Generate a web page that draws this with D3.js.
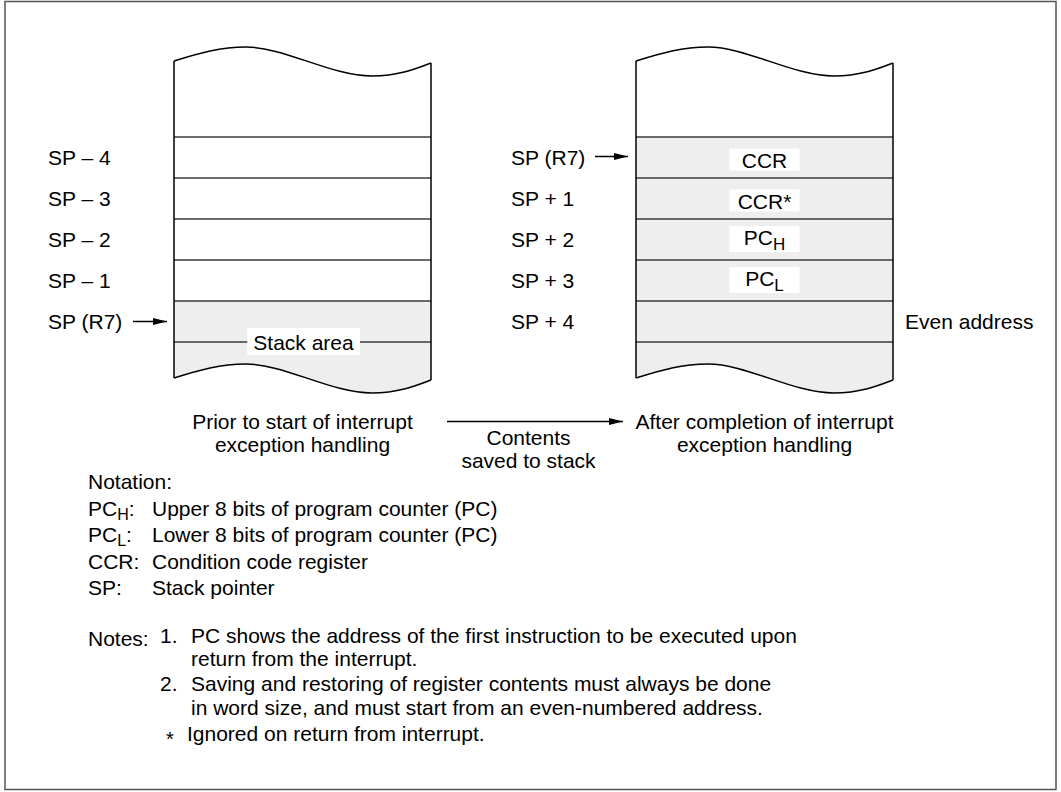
<!DOCTYPE html>
<html><head><meta charset="utf-8">
<script src="https://cdn.jsdelivr.net/npm/d3@7"></script>
<style>
body{margin:0;background:#fff}
text{font-family:"Liberation Sans",Arial,Helvetica,sans-serif;font-size:21px;fill:#000}
</style>
</head><body><svg id="c" width="1061" height="792"></svg>
<script>
// ---- data ----
const rowIndex = [0, 1, 2, 3, 4];
const leftLabels = ["SP – 4", "SP – 3", "SP – 2", "SP – 1", "SP (R7)"];
const rightLabels = ["SP (R7)", "SP + 1", "SP + 2", "SP + 3", "SP + 4"];
const cellMain = ["CCR", "CCR", "PC", "PC", ""];
const cellSub  = ["", "", "H", "L", ""];
const cellSup  = ["", "*", "", "", ""];
const leftShadeFrom = 4;   // left stack shaded from row 4
const rightShadeFrom = 0;  // right stack shaded from row 0
const stackAreaLabel = "Stack area";
const evenLabel = "Even address";
const leftCaption = ["Prior to start of interrupt", "exception handling"];
const rightCaption = ["After completion of interrupt", "exception handling"];
const arrowCaption = ["Contents", "saved to stack"];
const notationTitle = "Notation:";
const notationKey = ["PC", "PC", "CCR", "SP"];
const notationSub = ["H", "L", "", ""];
const notationDesc = ["Upper 8 bits of program counter (PC)", "Lower 8 bits of program counter (PC)",
                      "Condition code register", "Stack pointer"];
const notesTitle = "Notes:";
const noteMarks = ["1.", "2."];
const noteLines = [["PC shows the address of the first instruction to be executed upon", "return from the interrupt."],
                   ["Saving and restoring of register contents must always be done", "in word size, and must start from an even-numbered address."]];
const footMark = "*";
const footText = "Ignored on return from interrupt.";

// ---- layout ----
const svg = d3.select("#c");
const y = d3.scaleLinear().domain([0, 5]).range([137, 342]);   // row boundaries
const stacks = [
  {x0: 174, x1: 431, shade: leftShadeFrom},
  {x0: 636, x1: 893, shade: rightShadeFrom}
];
const topY = 61, botY = 378;

// border
svg.append("rect").attr("x", 5).attr("y", 1.5).attr("width", 1051).attr("height", 788)
  .attr("fill", "none").attr("stroke", "#555").attr("stroke-width", 1.5);

function wave(p, x0, x1, yl, moveFirst) {
  const w = x1 - x0;
  if (moveFirst) p.moveTo(x0, yl); else p.lineTo(x0, yl);
  p.bezierCurveTo(x0 + 0.10 * w, yl - 8, x0 + 0.18 * w, yl - 14, x0 + 0.28 * w, yl - 14);
  p.bezierCurveTo(x0 + 0.43 * w, yl - 14, x0 + 0.61 * w, yl + 15, x0 + 0.77 * w, yl + 15);
  p.bezierCurveTo(x0 + 0.87 * w, yl + 15, x0 + 0.94 * w, yl + 8, x1, yl + 2);
  return p;
}

stacks.forEach(s => {
  const g = svg.append("g");
  const f = d3.path();
  f.moveTo(s.x0, y(s.shade));
  wave(f, s.x0, s.x1, botY, false);
  f.lineTo(s.x1, y(s.shade));
  f.closePath();
  g.append("path").attr("d", f.toString()).attr("fill", "#eeeeee");
  g.selectAll("line.row").data([0, 1, 2, 3, 4, 5]).join("line")
    .attr("x1", s.x0).attr("x2", s.x1).attr("y1", d => y(d)).attr("y2", d => y(d))
    .attr("stroke", "#3a3a3a").attr("stroke-width", 1.6);
  g.append("line").attr("x1", s.x0).attr("x2", s.x0).attr("y1", topY).attr("y2", botY)
    .attr("stroke", "#000").attr("stroke-width", 1.5);
  g.append("line").attr("x1", s.x1).attr("x2", s.x1).attr("y1", topY + 2).attr("y2", botY + 2)
    .attr("stroke", "#000").attr("stroke-width", 1.5);
  g.append("path").attr("d", wave(d3.path(), s.x0, s.x1, topY, true).toString())
    .attr("fill", "none").attr("stroke", "#000").attr("stroke-width", 1.5);
  g.append("path").attr("d", wave(d3.path(), s.x0, s.x1, botY, true).toString())
    .attr("fill", "none").attr("stroke", "#000").attr("stroke-width", 1.5);
});

const L = stacks[0], R = stacks[1];
const lc = (L.x0 + L.x1) / 2, rc = (R.x0 + R.x1) / 2;
const mid = i => (y(i) + y(i + 1)) / 2;

// Stack area label
const sa = svg.append("g");
const saRect = sa.append("rect").attr("fill", "#fff");
const saText = sa.append("text").attr("x", lc + 1).attr("y", y(5) + 7.5).attr("text-anchor", "middle").text(stackAreaLabel);
{ const b = saText.node().getBBox();
  saRect.attr("x", b.x - 6).attr("width", b.width + 12).attr("y", y(5) - 14).attr("height", 27); }

svg.selectAll("text.ll").data(rowIndex).join("text").attr("class", "ll")
  .attr("x", 48).attr("y", d => mid(d) + 7.5).text(d => leftLabels[d]);
svg.selectAll("text.rl").data(rowIndex).join("text").attr("class", "rl")
  .attr("x", 511).attr("y", d => mid(d) + 7.5).text(d => rightLabels[d]);
svg.append("text").attr("x", 905).attr("y", mid(4) + 7.5).text(evenLabel);

rowIndex.filter(i => cellMain[i]).forEach(i => {
  const hasSub = cellSub[i] !== "";
  const base = mid(i) + (hasSub ? 5.5 : 10);
  svg.append("rect").attr("x", rc - 35).attr("width", 70)
    .attr("y", base - 19).attr("height", hasSub ? 26 : 22).attr("fill", "#fff");
  const t = svg.append("text").attr("x", rc).attr("y", base).attr("text-anchor", "middle");
  t.append("tspan").text(cellMain[i]);
  if (hasSub) t.append("tspan").attr("dy", 5).style("font-size", "17px").text(cellSub[i]);
  if (cellSup[i]) t.append("tspan").text(cellSup[i]);
});

svg.append("defs").append("marker").attr("id", "ah").attr("viewBox", "0 0 14 8")
  .attr("refX", 14).attr("refY", 4).attr("markerWidth", 14).attr("markerHeight", 8)
  .attr("markerUnits", "userSpaceOnUse").attr("orient", "auto")
  .append("path").attr("d", "M0,0.5 L14,4 L0,7.5 Z").attr("fill", "#000");
const arrows = [[133, 167, mid(4)], [595, 628, mid(0) - 1], [447, 623, 421.5]];
svg.selectAll("line.ar").data(arrows).join("line").attr("class", "ar")
  .attr("x1", d => d[0]).attr("x2", d => d[1]).attr("y1", d => d[2]).attr("y2", d => d[2])
  .attr("stroke", "#000").attr("stroke-width", 1.3).attr("marker-end", "url(#ah)");

svg.selectAll("text.lc").data(leftCaption).join("text").attr("class", "lc")
  .attr("x", lc).attr("y", (d, i) => 429 + 23 * i).attr("text-anchor", "middle").text(d => d);
svg.selectAll("text.rc").data(rightCaption).join("text").attr("class", "rc")
  .attr("x", rc).attr("y", (d, i) => 429 + 23 * i).attr("text-anchor", "middle").text(d => d);
svg.selectAll("text.ac").data(arrowCaption).join("text").attr("class", "ac")
  .attr("x", 528.5).attr("y", (d, i) => 445 + 23 * i).attr("text-anchor", "middle").text(d => d);

svg.append("text").attr("x", 88).attr("y", 489).text(notationTitle);
notationKey.forEach((k, i) => {
  const yy = 489 + 26.5 * (i + 1);
  const t = svg.append("text").attr("x", 88).attr("y", yy);
  t.append("tspan").text(k);
  if (notationSub[i]) {
    t.append("tspan").attr("dy", 4).style("font-size", "16px").text(notationSub[i]);
    t.append("tspan").attr("dy", -4).text(":");
  } else t.append("tspan").text(":");
  svg.append("text").attr("x", 152).attr("y", yy).text(notationDesc[i]);
});

svg.append("text").attr("x", 88).attr("y", 646).text(notesTitle);
const noteY = [[643, 666], [691, 715]];
noteMarks.forEach((m, i) => {
  svg.append("text").attr("x", 160).attr("y", noteY[i][0]).text(m);
  noteLines[i].forEach((ln, j) => {
    svg.append("text").attr("x", 191).attr("y", noteY[i][j]).text(ln);
  });
});
svg.append("text").attr("x", 166).attr("y", 746).style("font-size", "20px").text(footMark);
svg.append("text").attr("x", 187).attr("y", 741).text(footText);
</script>
</body></html>
